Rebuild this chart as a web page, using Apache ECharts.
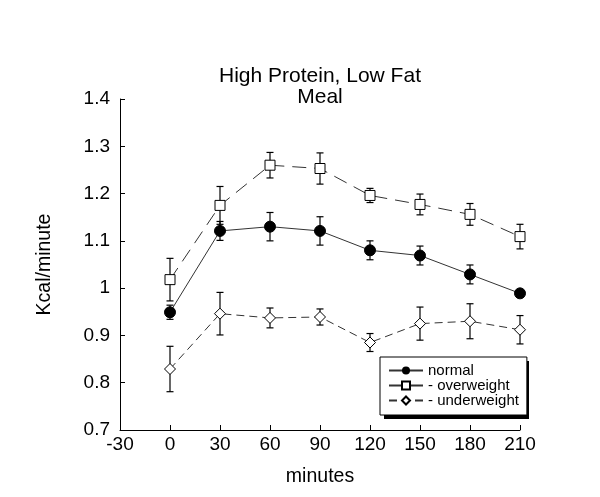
<!DOCTYPE html>
<html>
<head>
<meta charset="utf-8">
<script src="https://cdn.jsdelivr.net/npm/echarts@6/dist/echarts.min.js"></script>
<style>
  html, body { margin: 0; padding: 0; background: #fff; }
  #chart { width: 600px; height: 497px; }
</style>
</head>
<body>
<div id="chart"></div>
<script>
var minutes = [0, 30, 60, 90, 120, 150, 180, 210]
var normalVals = [0.949, 1.121, 1.130, 1.121, 1.080, 1.069, 1.029, 0.989]
var normalErr = [0.015, 0.020, 0.030, 0.030, 0.020, 0.020, 0.020, 0.004]
var overVals = [1.018, 1.175, 1.260, 1.253, 1.196, 1.177, 1.156, 1.109]
var overErr = [0.045, 0.040, 0.027, 0.033, 0.015, 0.022, 0.023, 0.026]
var underVals = [0.829, 0.946, 0.937, 0.939, 0.885, 0.925, 0.930, 0.912]
var underErr = [0.048, 0.045, 0.021, 0.017, 0.019, 0.035, 0.037, 0.030]

var font = 'Liberation Sans, Arial, Helvetica, sans-serif'

function pairs (vals) {
  return minutes.map(function (m, i) { return [m, vals[i]] })
}
function errData (vals, errs) {
  return minutes.map(function (m, i) { return [m, vals[i] - errs[i], vals[i] + errs[i]] })
}
function errSeries (vals, errs) {
  return {
    type: 'custom',
    silent: true,
    z: 1,
    data: errData(vals, errs),
    renderItem: function (params, api) {
      var lo = api.coord([api.value(0), api.value(1)])
      var hi = api.coord([api.value(0), api.value(2)])
      var s = { stroke: '#000', lineWidth: 1.2 }
      return {
        type: 'group',
        children: [
          { type: 'line', shape: { x1: lo[0], y1: lo[1], x2: hi[0], y2: hi[1] }, style: s },
          { type: 'line', shape: { x1: lo[0] - 3.5, y1: lo[1], x2: lo[0] + 3.5, y2: lo[1] }, style: s },
          { type: 'line', shape: { x1: hi[0] - 3.5, y1: hi[1], x2: hi[0] + 3.5, y2: hi[1] }, style: s }
        ]
      }
    }
  }
}

var myChart = echarts.init(document.getElementById('chart'))
var option = {
  animation: false,
  backgroundColor: '#fff',
  textStyle: { fontFamily: font, color: '#000' },
  graphic: [{
    type: 'text',
    x: 320,
    y: 66,
    z: 10,
    style: {
      text: 'High Protein, Low Fat\nMeal',
      textAlign: 'center',
      fontSize: 21,
      lineHeight: 21,
      fontFamily: font,
      fill: '#000'
    }
  }, {
    // legend drop shadow
    type: 'rect',
    z: 0,
    shape: { x: 384, y: 361, width: 145, height: 58 },
    style: { fill: '#000' }
  }],
  grid: { left: 120, right: 80, top: 99, bottom: 67 },
  legend: {
    data: ['normal', 'overweight', 'underweight'],
    orient: 'vertical',
    left: 380,
    top: 357,
    z: 5,
    itemWidth: 34,
    itemHeight: 10,
    itemGap: 0,
    padding: [6, 8, 7, 8],
    backgroundColor: '#fff',
    borderColor: '#000',
    borderWidth: 1,
    borderRadius: 0,
    textStyle: { fontSize: 15, lineHeight: 15, fontFamily: font, color: '#000' },
    formatter: function (name) {
      return name === 'normal' ? name : '- ' + name
    }
  },
  xAxis: {
    type: 'value',
    min: -30,
    max: 210,
    interval: 30,
    name: 'minutes',
    nameLocation: 'middle',
    nameGap: 37,
    nameTextStyle: { fontSize: 19.5, fontFamily: font, color: '#000' },
    axisLine: { show: true, onZero: false, lineStyle: { color: '#000', width: 1 } },
    axisTick: { show: true, inside: true, length: 5, lineStyle: { color: '#000' } },
    axisLabel: { fontSize: 19, fontFamily: font, color: '#000', margin: 5 },
    splitLine: { show: false }
  },
  yAxis: {
    type: 'value',
    min: 0.7,
    max: 1.4,
    interval: 0.1,
    name: 'Kcal/minute',
    nameLocation: 'middle',
    nameRotate: 90,
    nameGap: 65,
    nameTextStyle: { fontSize: 19.5, fontFamily: font, color: '#000' },
    axisLine: { show: true, onZero: false, lineStyle: { color: '#000', width: 1 } },
    axisTick: { show: true, inside: true, length: 5, lineStyle: { color: '#000' } },
    axisLabel: {
      fontSize: 19,
      fontFamily: font,
      color: '#000',
      margin: 10,
      formatter: function (v) { return String(Math.round(v * 10) / 10) }
    },
    splitLine: { show: false }
  },
  series: [
    {
      name: 'normal',
      type: 'line',
      z: 3,
      data: pairs(normalVals),
      symbol: 'circle',
      symbolSize: 11,
      itemStyle: { color: '#000', borderColor: '#000' },
      lineStyle: { color: '#333', width: 1, type: 'solid' }
    },
    {
      name: 'overweight',
      type: 'line',
      z: 3,
      data: pairs(overVals),
      symbol: 'rect',
      symbolSize: 10,
      showAllSymbol: true,
      itemStyle: { color: '#fff', borderColor: '#000', borderWidth: 1 },
      lineStyle: { color: '#333', width: 1, type: [14, 8] }
    },
    {
      name: 'underweight',
      type: 'line',
      z: 3,
      data: pairs(underVals),
      symbol: 'diamond',
      symbolSize: 11,
      itemStyle: { color: '#fff', borderColor: '#000', borderWidth: 1 },
      lineStyle: { color: '#333', width: 1, type: [8, 5] }
    },
    errSeries(normalVals, normalErr),
    errSeries(overVals, overErr),
    errSeries(underVals, underErr)
  ]
}
myChart.setOption(option)
</script>
</body>
</html>
